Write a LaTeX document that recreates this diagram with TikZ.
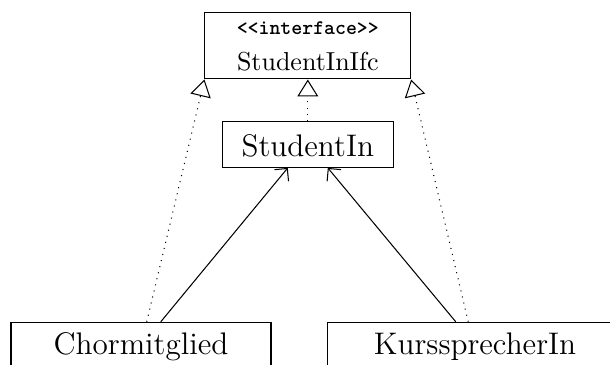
\documentclass[tikz,border=0pt]{standalone}
\usetikzlibrary{arrows.meta}
\begin{document}
\begin{tikzpicture}[x=0.3846pt,y=-0.3846pt,
  box/.style={draw,rectangle,inner sep=0pt,font=\large},
  realize/.style={dotted,-{Triangle[open,length=6.5pt,width=8pt]}},
  assoc/.style={-{Straight Barb[length=3.5pt,width=7pt]}}]
\useasboundingbox (0,0) rectangle (610,365);
\clip (0,0) rectangle (610,365);
\node[draw,inner sep=0pt,minimum width=79.1pt,minimum height=25.6pt] (iface) at (307.8,45.7) {};
\node[anchor=base,font=\footnotesize\ttfamily\bfseries] (stereo) at (307.8,34.3) {<{}<interface>{}>};
\node[anchor=base] (ifname) at (307.8,70.7) {StudentInIfc};
\node[box,minimum width=65.8pt,minimum height=17.6pt,text height=9.4pt,text depth=0pt] (stud) at (307.8,144.5) {StudentIn};
\node[box,minimum width=100pt,minimum height=17.6pt,text height=9.5pt,text depth=2pt] (chor) at (141,345.2) {Chormitglied};
\node[box,minimum width=113.8pt,minimum height=17.6pt,text height=9.5pt,text depth=2pt] (kurs) at (475,345.2) {KurssprecherIn};
\draw[realize] ([xshift=2.2pt]chor.north) -- (iface.south west);
\draw[assoc] ([xshift=7.6pt]chor.north) -- ([xshift=-7.7pt]stud.south);
\draw[assoc] ([xshift=-7.4pt]kurs.north) -- ([xshift=7.7pt]stud.south);
\draw[realize] ([xshift=-2.6pt]kurs.north) -- (iface.south east);
\draw[realize] (stud.north) -- (iface.south);
\end{tikzpicture}
\end{document}
